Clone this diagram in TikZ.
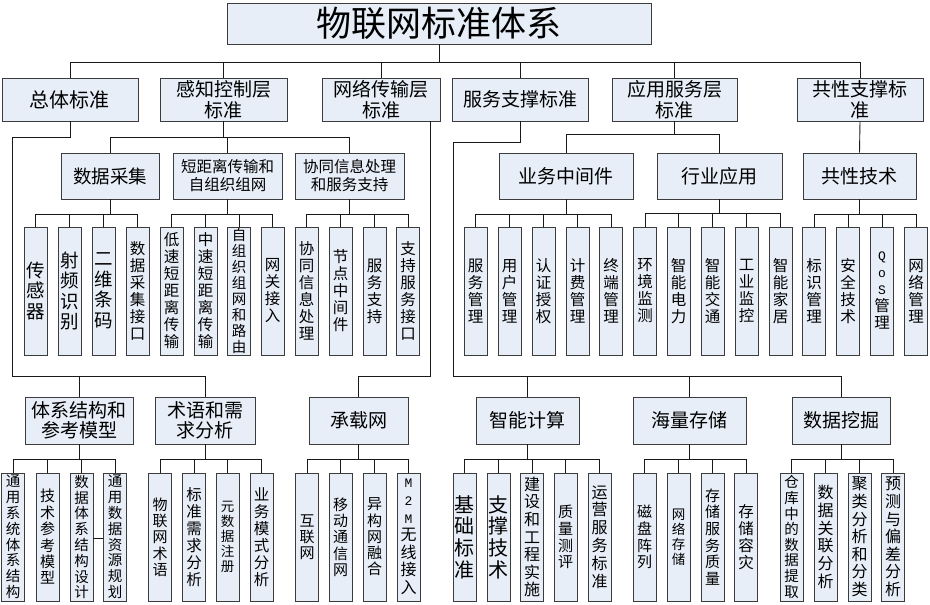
\documentclass[tikz,border=0pt]{standalone}
\usepackage{fontspec}
\setmainfont{Noto Sans CJK SC}
\newfontfamily\monof{Liberation Mono}
\newcommand\myfs[2]{\fontsize{#1}{#2}\selectfont}
\definecolor{boxc}{RGB}{232,238,248}
\definecolor{bordc}{RGB}{60,60,60}
\definecolor{connc}{RGB}{25,25,25}
\newcommand\bus[4]{%
  \draw[conn] (#1.south) -- (#1.south |- 0,#2);
  \draw[conn] (#3.north) |- (#4.north |- 0,#2) -- (#4.north);}
\begin{document}
\begin{tikzpicture}[x=1pt,y=-1pt,
  box/.style={draw=bordc, fill=boxc, line width=0.8pt, inner sep=0pt, align=center},
  hb/.style={box, minimum height=43pt},
  mb/.style={box, minimum height=46pt},
  lb/.style={box, minimum height=47pt},
  vb/.style={box, minimum width=23pt, minimum height=128pt},
  conn/.style={draw=connc, line width=0.9pt},
  fA/.style={font=\myfs{19}{21}},
  fB/.style={font=\myfs{15.5}{18}},
  vbig/.style={font=\myfs{18.5}{20.5}},
  vn/.style={font=\myfs{15.5}{17}},
  vs/.style={font=\myfs{14.5}{16}},
  vxs/.style={font=\myfs{13.5}{15}},
  vhuge/.style={font=\myfs{20}{21.7}}
]
\useasboundingbox (0,0) rectangle (930,605);

% title
\node[box, minimum width=424pt, minimum height=41pt, font=\myfs{35}{40}] (title) at (439,23.5) {物联网标准体系};

% level 1
\node[hb, minimum width=136pt, font=\myfs{20}{22}] (tot) at (70,99.5) {总体标准};
\node[hb, minimum width=127pt, fA] (gz) at (223.5,99.5) {感知控制层\\标准};
\node[hb, minimum width=118pt, fA] (wl) at (381,99.5) {网络传输层\\标准};
\node[hb, minimum width=136pt, fA] (fw) at (520,99.5) {服务支撑标准};
\node[hb, minimum width=125pt, fA] (yy) at (674.5,99.5) {应用服务层\\标准};
\node[hb, minimum width=126pt, fA] (gx) at (860,99.5) {共性支撑标\\准};

% level 2
\node[mb, minimum width=98pt, font=\myfs{18.5}{21}] (sj) at (110,176) {数据采集};
\node[mb, minimum width=109pt, fB] (dj) at (227.5,176) {短距离传输和\\自组织组网};
\node[mb, minimum width=109pt, fB] (xt) at (349.5,176) {协同信息处理\\和服务支持};
\node[mb, minimum width=134pt, fA] (ywzj) at (566,176) {业务中间件};
\node[mb, minimum width=125pt, fA] (hyyy) at (719.5,176) {行业应用};
\node[mb, minimum width=113pt, fA] (gxjs) at (859.5,176) {共性技术};

% level 3 left
\node[vb, vbig] (a1) at (35.5,291) {传\\感\\器};
\node[vb, vbig] (a2) at (69.5,291) {射\\频\\识\\别};
\node[vb, vbig] (a3) at (103.5,291) {二\\维\\条\\码};
\node[vb, vn] (a4) at (137.5,291) {数\\据\\采\\集\\接\\口};
\node[vb, vn] (a5) at (171.5,291) {低\\速\\短\\距\\离\\传\\输};
\node[vb, vn] (a6) at (205.5,291) {中\\速\\短\\距\\离\\传\\输};
\node[vb, vs] (a7) at (239,291) {自\\组\\织\\组\\网\\和\\路\\由};
\node[vb, vn] (a8) at (272.5,291) {网\\关\\接\\入};
\node[vb, vn] (a9) at (306.5,291) {协\\同\\信\\息\\处\\理};
\node[vb, vn] (a10) at (340.5,291) {节\\点\\中\\间\\件};
\node[vb, vn] (a11) at (374.5,291) {服\\务\\支\\持};
\node[vb, vn] (a12) at (408,291) {支\\持\\服\\务\\接\\口};

% level 3 right
\node[vb, vn] (b1) at (475.5,291) {服\\务\\管\\理};
\node[vb, vn] (b2) at (509.5,291) {用\\户\\管\\理};
\node[vb, vn] (b3) at (543.5,291) {认\\证\\授\\权};
\node[vb, vn] (b4) at (577.5,291) {计\\费\\管\\理};
\node[vb, vn] (b5) at (611,291) {终\\端\\管\\理};
\node[vb, vn] (b6) at (645,291) {环\\境\\监\\测};
\node[vb, vn] (b7) at (678.5,291) {智\\能\\电\\力};
\node[vb, vn] (b8) at (712.5,291) {智\\能\\交\\通};
\node[vb, vn] (b9) at (746.5,291) {工\\业\\监\\控};
\node[vb, vn] (b10) at (780.5,291) {智\\能\\家\\居};
\node[vb, vn] (b11) at (814,291) {标\\识\\管\\理};
\node[vb, vn] (b12) at (848,291) {安\\全\\技\\术};
\node[vb, vn] (b13) at (882,291) {{\monof\myfs{13}{17}Q}\\{\monof\myfs{13}{17}o}\\{\monof\myfs{13}{17}S}\\管\\理};
\node[vb, vn] (b14) at (916,291) {网\\络\\管\\理};

% level 4
\node[lb, minimum width=108pt, font=\myfs{19}{20}] (tx) at (79,420.5) {体系结构和\\参考模型};
\node[lb, minimum width=100pt, font=\myfs{19}{20}] (sy) at (205,420.5) {术语和需\\求分析};
\node[lb, minimum width=99pt, fA] (cz) at (358.5,420.5) {承载网};
\node[lb, minimum width=103pt, fA] (zj) at (527.5,420.5) {智能计算};
\node[lb, minimum width=113pt, fA] (hl) at (689.5,420.5) {海量存储};
\node[lb, minimum width=98pt, fA] (wj) at (841,420.5) {数据挖掘};

% level 5 left
\node[vb, font=\myfs{14.5}{15.8}] (c1) at (13,537) {通\\用\\系\\统\\体\\系\\结\\构};
\node[vb, font=\myfs{15}{16.4}] (c2) at (47.5,537) {技\\术\\参\\考\\模\\型};
\node[vb, font=\myfs{14.5}{15.8}] (c3) at (81.5,537) {数\\据\\体\\系\\结\\构\\设\\计};
\node[vb, font=\myfs{14.5}{15.8}] (c4) at (115,537) {通\\用\\数\\据\\资\\源\\规\\划};
\node[vb, font=\myfs{15}{16.3}] (c5) at (160,537) {物\\联\\网\\术\\语};
\node[vb, font=\myfs{15.5}{17}] (c6) at (194,537) {标\\准\\需\\求\\分\\析};
\node[vb, vxs] (c7) at (227.5,537) {元\\数\\据\\注\\册};
\node[vb, font=\myfs{15.5}{17}] (c8) at (261.5,537) {业\\务\\模\\式\\分\\析};
\node[vb, font=\myfs{15}{16}] (c9) at (307,537) {互\\联\\网};
\node[vb, font=\myfs{15}{16.3}] (c10) at (340.5,537) {移\\动\\通\\信\\网};
\node[vb, font=\myfs{15}{16.3}] (c11) at (374.5,537) {异\\构\\网\\融\\合};
\node[vb, font=\myfs{16}{17.6}] (c12) at (408.5,537) {{\monof\myfs{13}{17.6}M}\\{\monof\myfs{13}{17.6}2}\\{\monof\myfs{13}{17.6}M}\\无\\线\\接\\入};

% level 5 right
\node[vb, vhuge] (d1) at (464.5,537) {基\\础\\标\\准};
\node[vb, vhuge] (d2) at (498.5,537) {支\\撑\\技\\术};
\node[vb, font=\myfs{16}{17.6}] (d3) at (532,537) {建\\设\\和\\工\\程\\实\\施};
\node[vb, font=\myfs{15}{16.7}] (d4) at (565.5,537) {质\\量\\测\\评};
\node[vb, font=\myfs{16}{17.8}] (d5) at (599.5,537) {运\\营\\服\\务\\标\\准};
\node[vb, font=\myfs{15}{16.7}] (d6) at (644.5,537) {磁\\盘\\阵\\列};
\node[vb, vxs] (d7) at (678.5,537) {网\\络\\存\\储};
\node[vb, font=\myfs{15}{16.7}] (d8) at (712.5,537) {存\\储\\服\\务\\质\\量};
\node[vb, font=\myfs{15.5}{17}] (d9) at (746,537) {存\\储\\容\\灾};
\node[vb, font=\myfs{14.5}{15.6}] (d10) at (791.5,537) {仓\\库\\中\\的\\数\\据\\提\\取};
\node[vb, font=\myfs{16}{17.8}] (d11) at (825.5,537) {数\\据\\关\\联\\分\\析};
\node[vb, font=\myfs{16}{17.6}] (d12) at (859.5,537) {聚\\类\\分\\析\\和\\分\\类};
\node[vb, font=\myfs{16}{17.6}] (d13) at (893,537) {预\\测\\与\\偏\\差\\分\\析};

% top bus
\draw[conn] (title.south) -- (title.south |- 0,62);
\draw[conn] (tot.north) |- (gx.north |- 0,62) -- (gx.north);
\foreach \n in {gz,wl,fw,yy} \draw[conn] (\n.north) -- (\n.north |- 0,62);

% level 2
\bus{gz}{137}{sj}{xt}
\draw[conn] (dj.north) -- (dj.north |- 0,137);
\bus{yy}{134}{ywzj}{hyyy}
\draw[conn] (gx.south) -- (gxjs.north);

% level 3
\bus{sj}{214}{a1}{a4}
\foreach \n in {a2,a3} \draw[conn] (\n.north) -- (\n.north |- 0,214);
\bus{dj}{214}{a5}{a8}
\foreach \n in {a6,a7} \draw[conn] (\n.north) -- (\n.north |- 0,214);
\bus{xt}{214}{a9}{a12}
\foreach \n in {a10,a11} \draw[conn] (\n.north) -- (\n.north |- 0,214);
\bus{ywzj}{214}{b1}{b5}
\foreach \n in {b2,b3,b4} \draw[conn] (\n.north) -- (\n.north |- 0,214);
\bus{hyyy}{213}{b6}{b10}
\foreach \n in {b7,b8,b9} \draw[conn] (\n.north) -- (\n.north |- 0,213);
\bus{gxjs}{214}{b11}{b14}
\foreach \n in {b12,b13} \draw[conn] (\n.north) -- (\n.north |- 0,214);

% long loops to level 4
\coordinate (la) at (12,137);
\coordinate (lb) at (12,376);
\draw[conn] (tot.south) |- (la) -- (lb) -| (sy.north);
\draw[conn] (tx.north) -- (tx.north |- lb);
\coordinate (wa) at (430,376);
\draw[conn] (wl.south -| wa) -- (wa) -| (cz.north);
\coordinate (ra) at (453,142);
\coordinate (rb) at (453,376);
\draw[conn] (fw.south) |- (ra) -- (rb) -| (wj.north);
\foreach \n in {zj,hl} \draw[conn] (\n.north) -- (\n.north |- rb);

% level 5
\bus{tx}{459}{c1}{c4}
\foreach \n in {c2,c3} \draw[conn] (\n.north) -- (\n.north |- 0,459);
\bus{sy}{459}{c5}{c8}
\foreach \n in {c6,c7} \draw[conn] (\n.north) -- (\n.north |- 0,459);
\bus{cz}{459}{c9}{c12}
\foreach \n in {c10,c11} \draw[conn] (\n.north) -- (\n.north |- 0,459);
\bus{zj}{459}{d1}{d5}
\foreach \n in {d2,d3,d4} \draw[conn] (\n.north) -- (\n.north |- 0,459);
\bus{hl}{459}{d6}{d9}
\foreach \n in {d7,d8} \draw[conn] (\n.north) -- (\n.north |- 0,459);
\bus{wj}{459}{d10}{d13}
\foreach \n in {d11,d12} \draw[conn] (\n.north) -- (\n.north |- 0,459);
\draw[conn] (c3.east |- 0,538) -- (c4.west |- 0,538);
\end{tikzpicture}
\end{document}
